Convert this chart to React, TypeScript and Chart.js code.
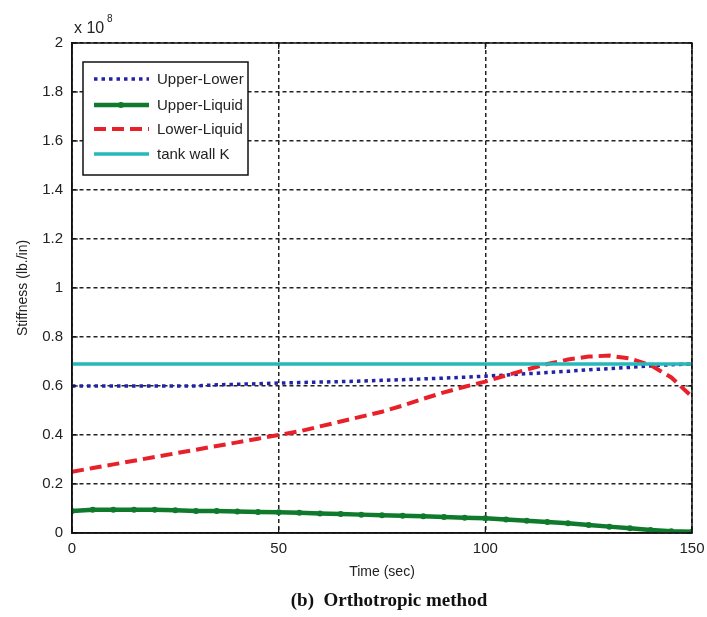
import React, { useEffect, useRef } from "react";
import { Chart, registerables } from "chart.js";

Chart.register(...registerables);

const timeSec = [0, 5, 10, 15, 20, 25, 30, 35, 40, 45, 50, 55, 60, 65, 70, 75, 80, 85, 90, 95, 100, 105, 110, 115, 120, 125, 130, 135, 140, 145, 150];
// values in units of 1e8 lb./in
const upperLower = [0.6, 0.6, 0.6, 0.6, 0.6, 0.6, 0.6, 0.605, 0.607, 0.609, 0.612, 0.614, 0.616, 0.618, 0.62, 0.623, 0.626, 0.629, 0.632, 0.636, 0.64, 0.645, 0.65, 0.655, 0.66, 0.666, 0.671, 0.676, 0.682, 0.687, 0.69];
const upperLiquid = [0.09, 0.095, 0.095, 0.095, 0.095, 0.093, 0.09, 0.09, 0.088, 0.086, 0.085, 0.083, 0.08, 0.078, 0.075, 0.072, 0.07, 0.068, 0.065, 0.062, 0.06, 0.055, 0.05, 0.045, 0.04, 0.033, 0.026, 0.019, 0.012, 0.007, 0.005];
const lowerLiquid = [0.25, 0.265, 0.28, 0.295, 0.31, 0.325, 0.34, 0.355, 0.37, 0.385, 0.4, 0.415, 0.435, 0.455, 0.475, 0.495, 0.52, 0.548, 0.574, 0.597, 0.618, 0.643, 0.667, 0.69, 0.708, 0.72, 0.724, 0.712, 0.685, 0.635, 0.556];
const tankWallK = [0.69, 0.69, 0.69, 0.69, 0.69, 0.69, 0.69, 0.69, 0.69, 0.69, 0.69, 0.69, 0.69, 0.69, 0.69, 0.69, 0.69, 0.69, 0.69, 0.69, 0.69, 0.69, 0.69, 0.69, 0.69, 0.69, 0.69, 0.69, 0.69, 0.69, 0.69];

const seriesNames = ["Upper-Lower", "Upper-Liquid", "Lower-Liquid", "tank wall K"];
const xTicks = [0, 50, 100, 150];

const BLUE = "#2323a6";
const GREEN = "#107a2c";
const RED = "#e8202a";
const CYAN = "#26b9b9";

const W = 707;
const H = 617;

const decorPlugin = {
  id: "decor",
  afterDraw(chart: any) {
    const { ctx, chartArea, scales } = chart;
    const { left, right, top, bottom } = chartArea;
    ctx.save();
    ctx.strokeStyle = "#111";
    ctx.lineWidth = 1.2;
    ctx.setLineDash([]);
    const xs = scales.x;
    const ys = scales.y;
    xs.ticks.forEach((t: any) => {
      const px = xs.getPixelForValue(t.value);
      ctx.beginPath();
      ctx.moveTo(px, bottom);
      ctx.lineTo(px, bottom - 6);
      ctx.moveTo(px, top);
      ctx.lineTo(px, top + 6);
      ctx.stroke();
    });
    ys.ticks.forEach((t: any) => {
      const py = ys.getPixelForValue(t.value);
      ctx.beginPath();
      ctx.moveTo(left, py);
      ctx.lineTo(left + 6, py);
      ctx.moveTo(right, py);
      ctx.lineTo(right - 6, py);
      ctx.stroke();
    });
    ctx.lineWidth = 1.5;
    ctx.strokeRect(left, top, right - left, bottom - top);

    ctx.fillStyle = "#222";
    ctx.font = "16px 'Liberation Sans', Arial, sans-serif";
    ctx.textAlign = "left";
    ctx.textBaseline = "alphabetic";
    ctx.fillText("x 10", left + 2, top - 10);
    ctx.font = "10px 'Liberation Sans', Arial, sans-serif";
    ctx.fillText("8", left + 35, top - 21);

    const lx = left + 11;
    const ly = top + 19;
    const lw = 165;
    const lh = 113;
    ctx.fillStyle = "#fff";
    ctx.fillRect(lx, ly, lw, lh);
    ctx.strokeStyle = "#111";
    ctx.lineWidth = 1.5;
    ctx.strokeRect(lx, ly, lw, lh);
    const rowY = [ly + 17, ly + 43, ly + 67, ly + 92];
    chart.data.datasets.forEach((ds: any, i: number) => {
      const y = rowY[i];
      ctx.save();
      ctx.strokeStyle = ds.borderColor;
      ctx.lineWidth = ds.borderWidth;
      ctx.setLineDash(ds.borderDash || []);
      ctx.beginPath();
      ctx.moveTo(lx + 11, y);
      ctx.lineTo(lx + 66, y);
      ctx.stroke();
      if (ds.pointRadius > 0) {
        ctx.setLineDash([]);
        ctx.fillStyle = ds.borderColor;
        ctx.beginPath();
        ctx.arc(lx + 38, y, 3, 0, Math.PI * 2);
        ctx.fill();
      }
      ctx.restore();
      ctx.fillStyle = "#222";
      ctx.font = "15px 'Liberation Sans', Arial, sans-serif";
      ctx.textAlign = "left";
      ctx.textBaseline = "middle";
      ctx.fillText(ds.label, lx + 74, y + 1);
    });

    ctx.fillStyle = "#111";
    ctx.font = "bold 19px 'Liberation Serif', 'Times New Roman', serif";
    ctx.textAlign = "center";
    ctx.textBaseline = "middle";
    ctx.fillText("(b)  Orthotropic method", 389, 601);
    ctx.restore();
  },
};

export default function App() {
  const canvasRef = useRef<HTMLCanvasElement | null>(null);

  useEffect(() => {
    if (!canvasRef.current) return;
    const chart = new Chart(canvasRef.current, {
      type: "line",
      data: {
        datasets: [
          {
            label: seriesNames[0],
            data: timeSec.map((t, i) => ({ x: t, y: upperLower[i] })),
            borderColor: BLUE,
            borderWidth: 3.5,
            borderDash: [3.5, 4],
            pointRadius: 0,
            order: 3,
          },
          {
            label: seriesNames[1],
            data: timeSec.map((t, i) => ({ x: t, y: upperLiquid[i] })),
            borderColor: GREEN,
            backgroundColor: GREEN,
            borderWidth: 4.5,
            pointRadius: 3,
            pointBorderWidth: 0,
            pointBackgroundColor: GREEN,
            order: 2,
          },
          {
            label: seriesNames[2],
            data: timeSec.map((t, i) => ({ x: t, y: lowerLiquid[i] })),
            borderColor: RED,
            borderWidth: 4,
            borderDash: [12, 6],
            pointRadius: 0,
            order: 1,
          },
          {
            label: seriesNames[3],
            data: timeSec.map((t, i) => ({ x: t, y: tankWallK[i] })),
            borderColor: CYAN,
            borderWidth: 3.5,
            pointRadius: 0,
            order: 0,
          },
        ],
      },
      options: {
        animation: false,
        responsive: false,
        maintainAspectRatio: false,
        devicePixelRatio: 1,
        layout: { padding: { top: 43, right: 15, left: 0, bottom: 0 } },
        plugins: {
          legend: { display: false },
          tooltip: { enabled: false },
          title: { display: false },
        },
        scales: {
          x: {
            type: "linear",
            min: 0,
            max: 150,
            afterFit: (s: any) => {
              s.height = 84;
              s.paddingLeft = 0;
              s.paddingRight = 0;
            },
            afterBuildTicks: (s: any) => {
              s.ticks = xTicks.map((v) => ({ value: v }));
            },
            ticks: {
              color: "#222",
              padding: 7,
              font: { size: 15, family: "'Liberation Sans', Arial, sans-serif" },
              maxRotation: 0,
            },
            grid: {
              color: "#222",
              lineWidth: 1.5,
              drawTicks: false,
            },
            border: { display: true, color: "#111", width: 1.5, dash: [4, 3] },
            title: {
              display: true,
              text: "Time (sec)",
              color: "#222",
              font: { size: 14, family: "'Liberation Sans', Arial, sans-serif" },
              padding: { top: 0, bottom: 36 },
            },
          },
          y: {
            type: "linear",
            min: 0,
            max: 2,
            afterFit: (s: any) => {
              s.width = 72;
              s.paddingTop = 0;
              s.paddingBottom = 0;
            },
            ticks: {
              stepSize: 0.2,
              color: "#222",
              padding: 9,
              font: { size: 15, family: "'Liberation Sans', Arial, sans-serif" },
              callback: (v: any) => String(Number(Number(v).toFixed(1))),
            },
            grid: {
              color: "#222",
              lineWidth: 1.5,
              drawTicks: false,
            },
            border: { display: true, color: "#111", width: 1.5, dash: [4, 3] },
            title: {
              display: true,
              text: "Stiffness (lb./in)",
              color: "#222",
              font: { size: 14, family: "'Liberation Sans', Arial, sans-serif" },
              padding: { top: 15, bottom: 0 },
            },
          },
        },
      },
      plugins: [decorPlugin],
    });
    return () => chart.destroy();
  }, []);

  return (
    <div style={{ position: "absolute", left: 0, top: 0, width: W, height: H, background: "#fff" }}>
      <canvas ref={canvasRef} width={W} height={H} style={{ width: W, height: H, display: "block" }} />
    </div>
  );
}
